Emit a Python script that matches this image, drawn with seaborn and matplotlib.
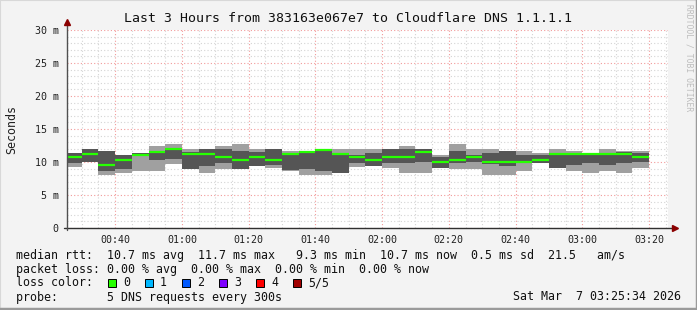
import numpy as np
import pandas as pd
import matplotlib
matplotlib.use("Agg")
import matplotlib.pyplot as plt
import seaborn as sns
from matplotlib.patches import Rectangle
from matplotlib.lines import Line2D

# ---- data (ms) : 5-minute steps starting at 00:25 ----
step_start_min = list(range(25, 200, 5))  # minutes after 00:00
ping_lo = [9.2, 10.0, 8.0, 8.4, 8.6, 8.6, 9.7, 8.9, 8.3, 9.0, 9.0, 9.4, 9.1, 8.6, 8.0, 8.0, 8.4, 9.2,
           9.4, 9.1, 8.4, 8.4, 9.1, 8.9, 9.0, 8.0, 8.0, 8.6, 9.8, 9.1, 8.6, 8.4, 8.6, 8.4, 9.1]
ping_q1 = [9.8, 10.0, 8.6, 9.0, 10.9, 10.3, 10.4, 9.0, 9.4, 9.8, 9.0, 9.4, 9.6, 8.8, 8.9, 8.6, 8.4, 9.8,
           9.4, 9.8, 9.8, 10.0, 9.1, 9.8, 10.0, 9.7, 9.4, 9.8, 9.8, 9.1, 9.5, 9.8, 9.5, 9.8, 10.0]
median = [10.8, 11.2, 9.5, 10.3, 11.1, 11.5, 12.0, 11.2, 11.2, 10.8, 10.3, 10.8, 10.3, 11.2, 11.5, 11.8, 11.2, 10.8,
          10.3, 10.8, 10.8, 11.5, 10.0, 10.3, 10.8, 10.0, 10.0, 10.0, 10.3, 11.2, 11.2, 11.2, 11.2, 11.2, 10.8]
ping_q3 = [11.3, 12.0, 11.6, 11.0, 11.3, 11.6, 12.1, 11.5, 12.0, 12.0, 11.6, 11.5, 12.0, 11.4, 11.6, 12.0, 11.3, 11.1,
           11.3, 12.0, 12.0, 12.0, 10.8, 11.6, 11.1, 11.3, 11.6, 11.0, 11.0, 11.3, 11.3, 11.3, 11.3, 11.5, 11.3]
ping_hi = [11.4, 12.0, 11.6, 11.0, 11.4, 12.4, 12.7, 12.0, 12.0, 12.5, 12.7, 12.0, 12.0, 11.6, 11.6, 12.0, 12.0, 12.0,
           12.0, 12.0, 12.4, 12.0, 11.0, 12.7, 12.0, 12.0, 11.6, 11.6, 11.3, 12.0, 11.6, 11.4, 12.0, 11.6, 11.6]

x_major = [40, 60, 80, 100, 120, 140, 160, 180, 200]
x_labels = ["00:40", "01:00", "01:20", "01:40", "02:00", "02:20", "02:40", "03:00", "03:20"]
y_major = [0, 5, 10, 15, 20, 25, 30]
y_labels = ["0", "5 m", "10 m", "15 m", "20 m", "25 m", "30 m"]

title = "Last 3 Hours from 383163e067e7 to Cloudflare DNS 1.1.1.1"
legend_rows = [
    "median rtt:  10.7 ms avg  11.7 ms max   9.3 ms min  10.7 ms now  0.5 ms sd  21.5   am/s",
    "packet loss: 0.00 % avg  0.00 % max  0.00 % min  0.00 % now",
    "loss color:",
    "probe:       5 DNS requests every 300s",
]
loss_labels = ["0", "1", "2", "3", "4", "5/5"]
loss_colors = ["#26ff00", "#00b8ff", "#0059ff", "#7e00ff", "#ff0000", "#a00000"]
date_text = "Sat Mar  7 03:25:34 2026"

# ---- build step tables ----
edges = np.array(step_start_min + [step_start_min[-1] + 5], dtype=float)
def ext(a):
    return np.array(list(a) + [a[-1]], dtype=float)

# median as separate horizontal segments (one unit per step)
seg = pd.DataFrame({
    "t": [t for t in step_start_min for _ in (0, 1)],
    "med": [m for m in median for _ in (0, 1)],
    "step": [i for i in range(len(median)) for _ in (0, 1)],
})
seg.loc[1::2, "t"] = seg.loc[1::2, "t"] + 5

sns.set_theme(style="white")
plt.rcParams["font.family"] = ["DejaVu Sans Mono"]

W, H = 697, 310
fig = plt.figure(figsize=(W / 100, H / 100), dpi=100, facecolor="#f3f3f3")
ax = fig.add_axes([67 / W, 82 / H, 600.6 / W, 198 / H])
ax.set_facecolor("white")

x0 = 25 + 34 / 60
ax.set_xlim(x0, x0 + 180)
ax.set_ylim(0, 30)

# grid
ax.set_xticks(x_major)
ax.set_xticklabels(x_labels)
ax.set_xticks(np.arange(30, 206, 5), minor=True)
ax.set_yticks(y_major)
ax.set_yticklabels(y_labels)
ax.set_yticks(np.arange(0, 31, 1), minor=True)
ax.grid(which="minor", color="#d4d4d4", linestyle=(0, (1, 2)), linewidth=0.8)
ax.grid(which="major", color="#f29a9a", linestyle=(0, (1, 2)), linewidth=0.8)
ax.set_axisbelow(True)

# smoke
ax.fill_between(edges, ext(ping_lo), ext(ping_hi), step="post", color="#a0a0a0", linewidth=0, zorder=2)
ax.fill_between(edges, ext(ping_q1), ext(ping_q3), step="post", color="#555555", linewidth=0, zorder=3)
sns.lineplot(data=seg, x="t", y="med", units="step", estimator=None, color="#26ff00",
             linewidth=1.6, ax=ax, zorder=4, solid_capstyle="butt")
ax.set_xlabel("")
ax.set_ylabel("Seconds", fontsize=8.4, color="#202020", labelpad=12)

for s in ax.spines.values():
    s.set_visible(False)

ax.tick_params(axis="both", which="both", length=2, width=0.8, color="#606060", direction="out")
ax.tick_params(axis="x", which="major", labelsize=7.2, pad=3, labelcolor="#202020")
ax.tick_params(axis="y", which="major", labelsize=7.2, pad=4, labelcolor="#202020")

# axes lines with arrows
ax.plot([-0.005, 1.01], [0, 0], transform=ax.transAxes, color="#303030", lw=1.0, clip_on=False, zorder=5)
ax.plot([0, 0], [-0.012, 1.035], transform=ax.transAxes, color="#505050", lw=1.0, clip_on=False, zorder=5)
ax.plot([1.012], [0], transform=ax.transAxes, marker=">", color="#8b0000", markersize=4, clip_on=False, zorder=6)
ax.plot([0], [1.04], transform=ax.transAxes, marker="^", color="#8b0000", markersize=4, clip_on=False, zorder=6)

# title
fig.text(348 / W, 1 - 19 / H, title, ha="center", va="center", fontsize=9.5, color="#101010")

# legend rows
lx = 16 / W
rows_y = [255, 269, 283, 297]
for txt, yy in zip(legend_rows, rows_y):
    fig.text(lx, 1 - yy / H, txt, ha="left", va="center", fontsize=8.4, color="#101010")

# loss color boxes
for i, (lab, col) in enumerate(zip(loss_labels, loss_colors)):
    bx = 108 + 37 * i
    fig.add_artist(Rectangle((bx / W, 1 - 287 / H), 8 / W, 8 / H, transform=fig.transFigure,
                             facecolor=col, edgecolor="#000000", linewidth=0.7))
    fig.text((bx + 15) / W, 1 - 283 / H, lab, ha="left", va="center", fontsize=8.4, color="#101010")

fig.text(681 / W, 1 - 297 / H, date_text, ha="right", va="center", fontsize=8.4, color="#101010")

fig.text(689 / W, 1 - 4 / H, "RRDTOOL / TOBI OETIKER", rotation=270, ha="center", va="top",
         fontsize=5.8, color="#bdbdbd")

# frame
fig.add_artist(Line2D([0, 0, 1], [0, 1, 1], transform=fig.transFigure, color="#d8d8d8", lw=1.5))
fig.add_artist(Line2D([0, 1, 1], [0.003, 0.003, 1], transform=fig.transFigure, color="#9a9a9a", lw=2.5))

fig.savefig("out.png", dpi=100, facecolor=fig.get_facecolor())
